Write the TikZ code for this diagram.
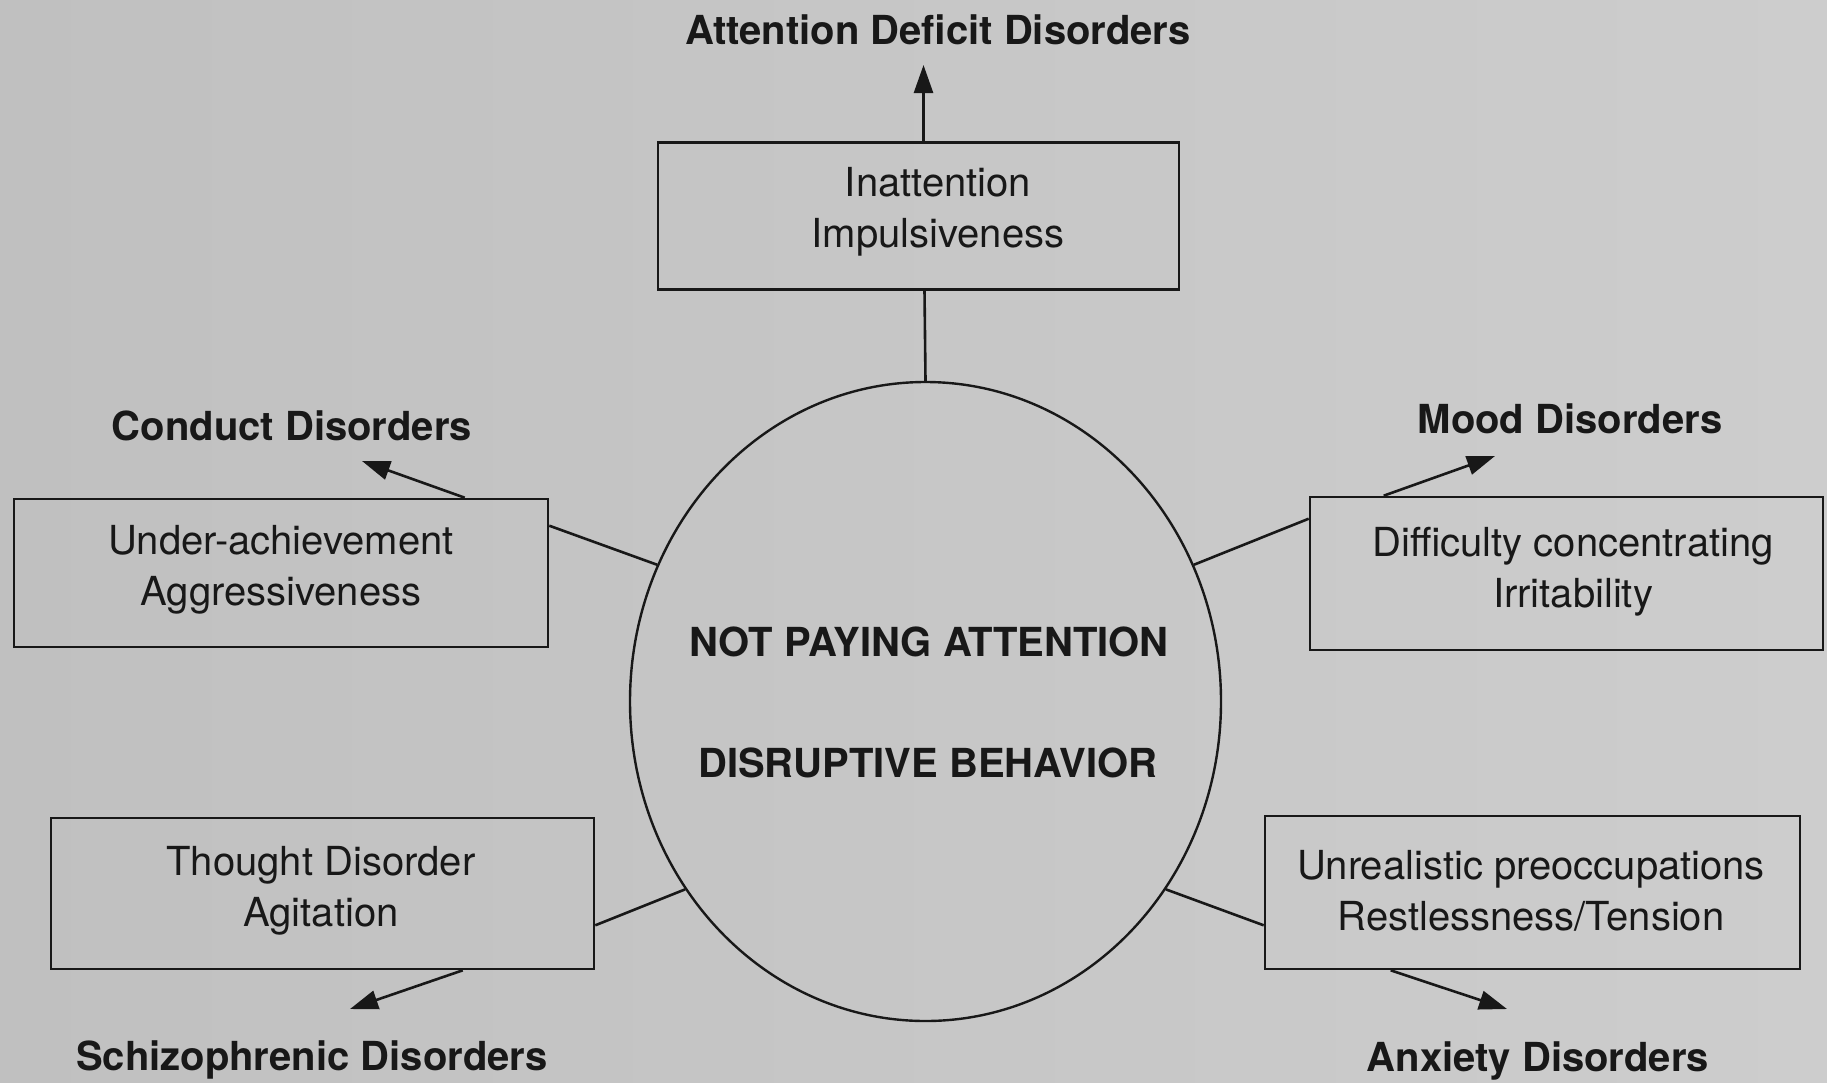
\documentclass[tikz,border=0pt]{standalone}
\usepackage{fontspec}
\setmainfont{TeX Gyre Heros}
\usetikzlibrary{arrows.meta,shapes.geometric,calc}
\definecolor{bgL}{RGB}{192,192,192}
\definecolor{bgM}{RGB}{214,214,214}
\definecolor{bgR}{RGB}{205,205,205}
\definecolor{ink}{RGB}{24,24,24}
\begin{document}
\begin{tikzpicture}[x=1pt,y=-1pt,
  boxnode/.style={draw=ink, line width=2.6pt, inner sep=0pt},
  boxtext/.style={text=ink, font=\fontsize{40}{51}\selectfont, align=center, inner sep=0pt},
  lbl/.style={text=ink, font=\fontsize{40}{48}\selectfont\bfseries, inner sep=0pt, anchor=base},
  link/.style={draw=ink, line width=2.6pt},
  arr/.style={link, -{Triangle[length=28pt,width=19pt]}}]
% background
\shade[left color=bgL, middle color=bgM, right color=bgR] (0,0) rectangle (1827,1082);
\useasboundingbox (0,0) rectangle (1827,1082);

% central circle
\node[draw=ink, line width=2.4pt, ellipse, minimum width=591pt, minimum height=639pt, inner sep=0pt] (core) at (925.5,701.5) {};
\node[lbl] (c1) at (929,656) {NOT PAYING ATTENTION};
\node[lbl] (c2) at (928,777) {DISRUPTIVE BEHAVIOR};

% boxes
\node[boxnode, minimum width=521pt, minimum height=147pt] (topbox) at (918.5,216) {};
\node[boxtext] (toptext) at (938,211.5) {Inattention\\Impulsiveness};

\node[boxnode, minimum width=534pt, minimum height=148pt] (ltbox) at (281,573) {};
\node[boxtext] (lttext) at (281,569.5) {Under-achievement\\Aggressiveness};

\node[boxnode, minimum width=513pt, minimum height=153pt] (rtbox) at (1566.5,573.5) {};
\node[boxtext] (rttext) at (1573,571.5) {Difficulty concentrating\\Irritability};

\node[boxnode, minimum width=543pt, minimum height=151pt] (lbbox) at (322.5,893.5) {};
\node[boxtext] (lbtext) at (321,891) {Thought Disorder\\Agitation};

\node[boxnode, minimum width=535pt, minimum height=153pt] (rbbox) at (1532.5,892.5) {};
\node[boxtext] (rbtext) at (1531,891) {Unrealistic preoccupations\\Restlessness/Tension};

% outcome labels
\node[lbl] (add) at (938,44) {Attention Deficit Disorders};
\node[lbl] (cd) at (292,440) {Conduct Disorders};
\node[lbl] (md) at (1570,433) {Mood Disorders};
\node[lbl] (sd) at (312,1070) {Schizophrenic Disorders};
\node[lbl] (ad) at (1538,1071) {Anxiety Disorders};

% arrow tips
\coordinate (addtip) at (923.5,65);
\coordinate (cdtip) at (362,461);
\coordinate (mdtip) at (1495,456);
\coordinate (sdtip) at (350,1009);
\coordinate (adtip) at (1507,1009);

% connectors box - circle
\draw[link] ($(topbox.south)+(6,0)$) -- (core.north);
\draw[link] ($(ltbox.north east)+(0,28)$) -- (core.153);
\draw[link] ($(rtbox.north west)+(0,23)$) -- (core.27);
\draw[link] ($(lbbox.south east)+(0,-45)$) -- (core.218);
\draw[link] ($(rbbox.south west)+(0,-45)$) -- (core.322);

% arrows box - disorder
\draw[arr] ($(topbox.north)+(5,0)$) -- (addtip);
\draw[arr] ($(ltbox.north west)+(452,0)$) -- (cdtip);
\draw[arr] ($(rtbox.north west)+(75,0)$) -- (mdtip);
\draw[arr] ($(lbbox.south west)+(413,0)$) -- (sdtip);
\draw[arr] ($(rbbox.south west)+(127,0)$) -- (adtip);
\end{tikzpicture}
\end{document}
